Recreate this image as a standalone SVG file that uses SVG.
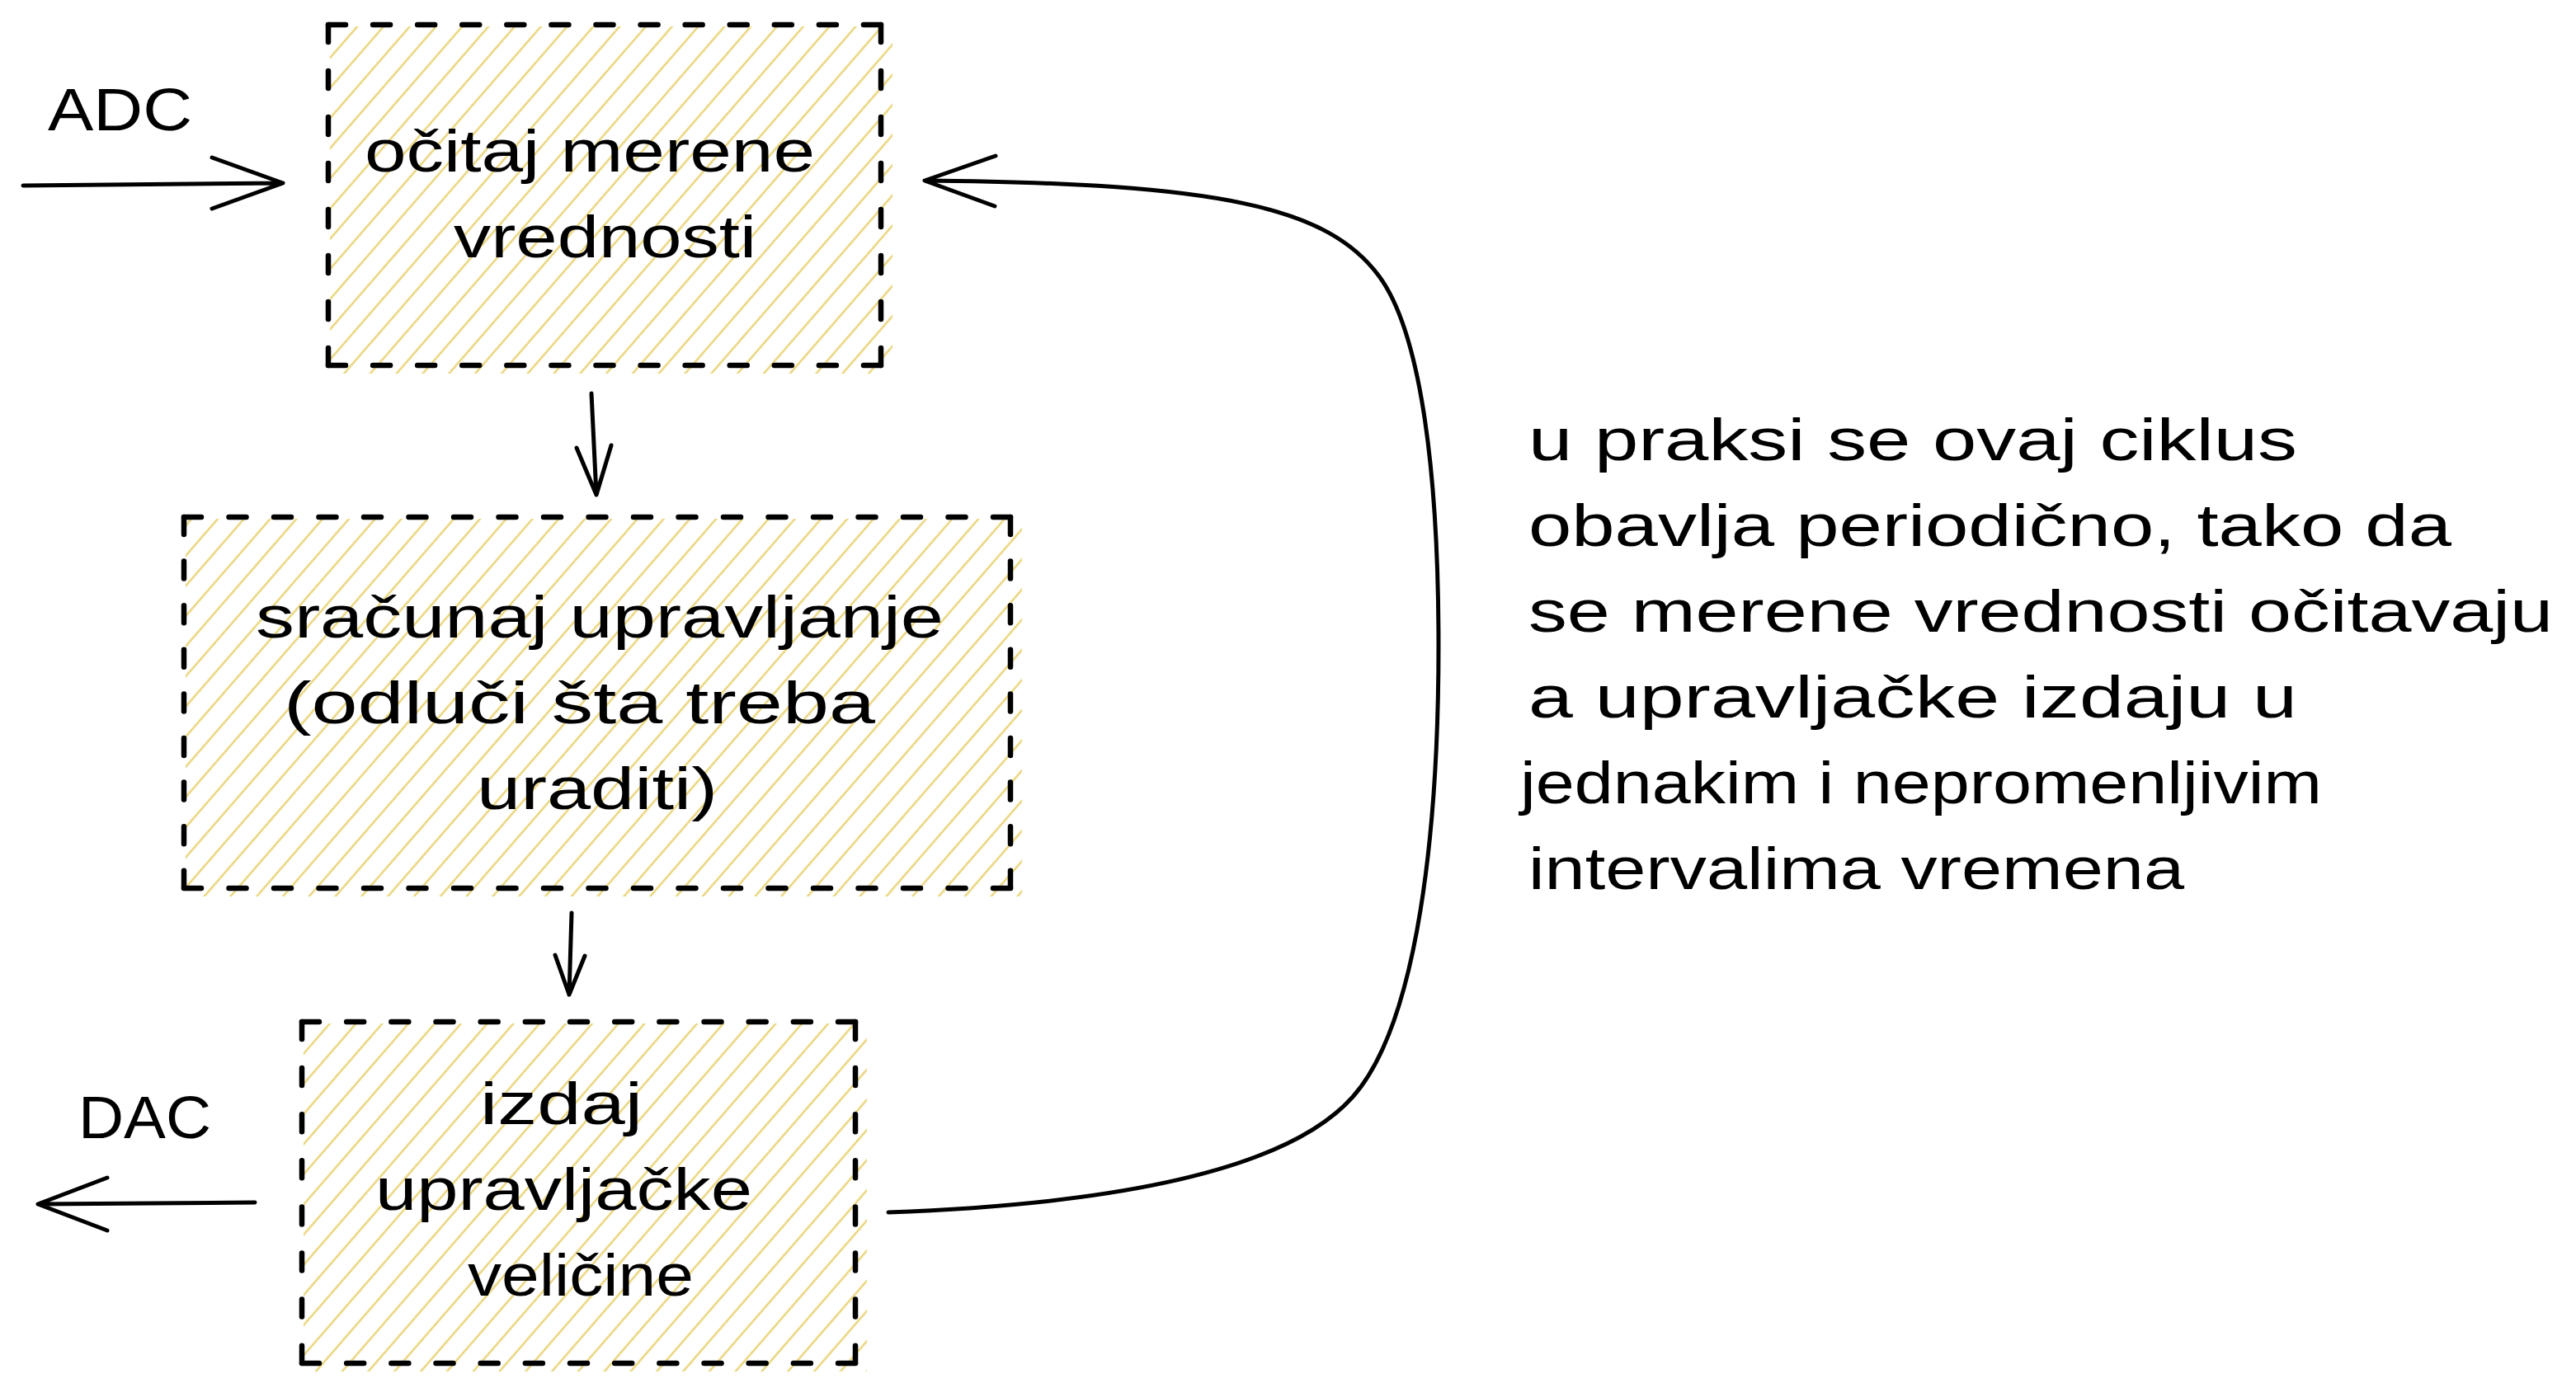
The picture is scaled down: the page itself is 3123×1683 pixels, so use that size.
<svg xmlns="http://www.w3.org/2000/svg" width="3123" height="1683" viewBox="0 0 3123 1683">
<style>
.txt{font-family:"Liberation Sans","DejaVu Sans",sans-serif;font-size:72px;fill:#000}
.dash{stroke:#000;stroke-width:6.5;stroke-linecap:round;fill:none}
.conn{stroke:#000;stroke-width:5;stroke-linecap:round;stroke-linejoin:round;fill:none}
.hatch{fill:url(#hatch)}
</style>
<defs>
<pattern id="hatch" patternUnits="userSpaceOnUse" width="24" height="24" patternTransform="rotate(41)">
<line x1="12" y1="-2" x2="12" y2="26" stroke="#e9d47c" stroke-width="2.5"/>
</pattern>
</defs>
<rect width="3123" height="1683" fill="#fff"/>

<g id="node-read">
<rect class="hatch" x="400" y="32" width="682" height="421"/>
<line class="dash" x1="398" y1="30" x2="1068" y2="30" stroke-dasharray="21 33.08"/>
<line class="dash" x1="398" y1="443" x2="1068" y2="443" stroke-dasharray="21 33.08"/>
<line class="dash" x1="398" y1="30" x2="398" y2="443" stroke-dasharray="21 35"/>
<line class="dash" x1="1068" y1="30" x2="1068" y2="443" stroke-dasharray="21 35"/>
<text class="txt" x="442" y="208" textLength="546" lengthAdjust="spacingAndGlyphs">očitaj merene</text>
<text class="txt" x="550" y="312" textLength="367" lengthAdjust="spacingAndGlyphs">vrednosti</text>
</g>

<g id="node-compute">
<rect class="hatch" x="225" y="629" width="1014" height="458"/>
<line class="dash" x1="223" y1="627" x2="1225" y2="627" stroke-dasharray="21 33.5"/>
<line class="dash" x1="223" y1="1077" x2="1225" y2="1077" stroke-dasharray="21 33.5"/>
<line class="dash" x1="223" y1="627" x2="223" y2="1077" stroke-dasharray="21 32.6"/>
<line class="dash" x1="1225" y1="627" x2="1225" y2="1077" stroke-dasharray="21 32.6"/>
<text class="txt" x="310" y="773" textLength="834" lengthAdjust="spacingAndGlyphs">sračunaj upravljanje</text>
<text class="txt" x="344" y="877" textLength="717" lengthAdjust="spacingAndGlyphs">(odluči šta treba</text>
<text class="txt" x="578" y="981" textLength="292" lengthAdjust="spacingAndGlyphs">uraditi)</text>
</g>

<g id="node-output">
<rect class="hatch" x="368" y="1241" width="683" height="422"/>
<line class="dash" x1="366" y1="1239" x2="1037" y2="1239" stroke-dasharray="21 33.17"/>
<line class="dash" x1="366" y1="1653" x2="1037" y2="1653" stroke-dasharray="21 33.17"/>
<line class="dash" x1="366" y1="1239" x2="366" y2="1653" stroke-dasharray="21 35.1"/>
<line class="dash" x1="1037" y1="1239" x2="1037" y2="1653" stroke-dasharray="21 35.1"/>
<text class="txt" x="582" y="1363" textLength="197" lengthAdjust="spacingAndGlyphs">izdaj</text>
<text class="txt" x="455" y="1467" textLength="457" lengthAdjust="spacingAndGlyphs">upravljačke</text>
<text class="txt" x="567" y="1571" textLength="274" lengthAdjust="spacingAndGlyphs">veličine</text>
</g>

<g id="label-adc">
<text class="txt" x="58" y="158" textLength="175" lengthAdjust="spacingAndGlyphs">ADC</text>
</g>
<g id="label-dac">
<text class="txt" x="95" y="1380" textLength="161" lengthAdjust="spacingAndGlyphs">DAC</text>
</g>

<g id="note">
<text class="txt" x="1853" y="558" textLength="932" lengthAdjust="spacingAndGlyphs">u praksi se ovaj ciklus</text>
<text class="txt" x="1853" y="662" textLength="1119" lengthAdjust="spacingAndGlyphs">obavlja periodično, tako da</text>
<text class="txt" x="1853" y="766" textLength="1242" lengthAdjust="spacingAndGlyphs">se merene vrednosti očitavaju</text>
<text class="txt" x="1853" y="870" textLength="932" lengthAdjust="spacingAndGlyphs">a upravljačke izdaju u</text>
<text class="txt" x="1843" y="974" textLength="972" lengthAdjust="spacingAndGlyphs">jednakim i nepromenljivim</text>
<text class="txt" x="1853" y="1078" textLength="795" lengthAdjust="spacingAndGlyphs">intervalima vremena</text>
</g>

<g id="connectors">
<path class="conn" d="M28,225 L343,222 M257,191 L343,222 L257,253"/>
<path class="conn" d="M309,1458 L46,1460 M130,1428 L46,1460 L130,1492"/>
<path class="conn" d="M717,477 L723,600 M699,543 L723,600 L741,540"/>
<path class="conn" d="M693,1107 L690,1206 M673,1158 L690,1206 L709,1159"/>
<path class="conn" d="M1077,1470 C1350,1460 1560,1420 1640,1330 C1720,1240 1744,1000 1744,783 C1744,560 1720,400 1672,335 C1610,251 1480,222 1121,219 M1207,189 L1121,219 L1206,250"/>
</g>
</svg>
